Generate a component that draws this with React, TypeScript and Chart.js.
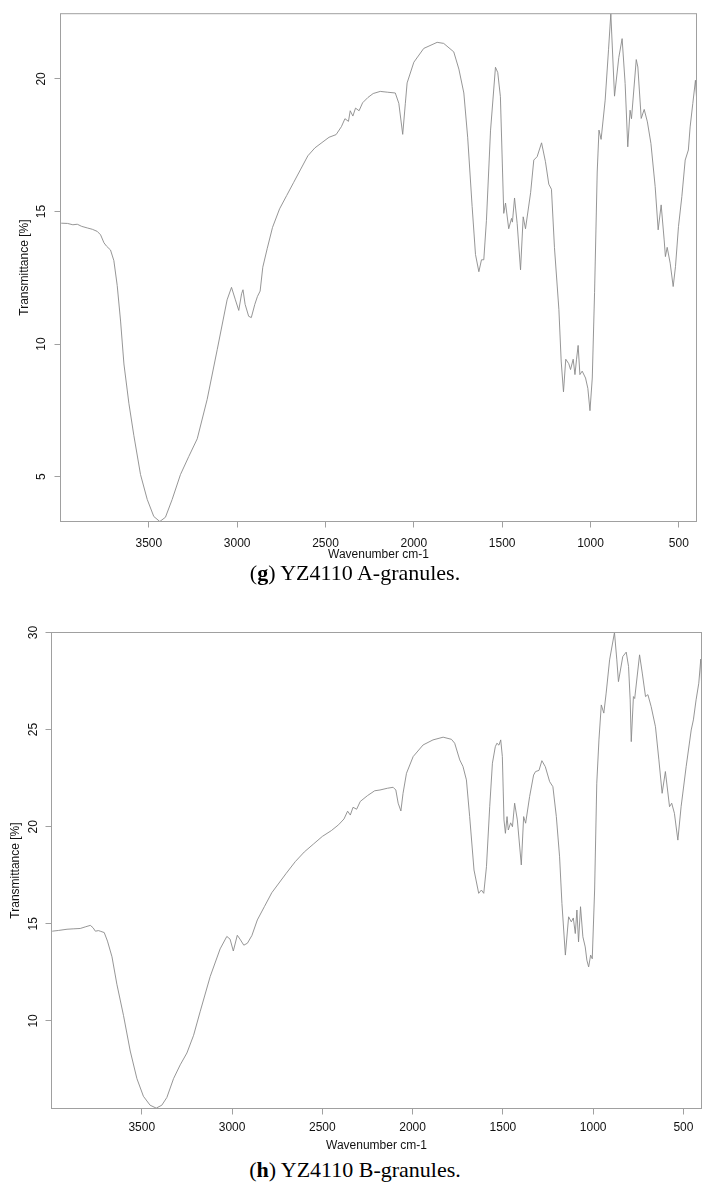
import React, { useEffect, useRef } from "react";
import { Chart, registerables } from "chart.js";

Chart.register(...registerables);

// ---------- data ----------
const X_TICKS = [3500, 3000, 2500, 2000, 1500, 1000, 500];
const X_MIN = 400;
const X_MAX = 4000;

const Y_TICKS_A = [5, 10, 15, 20];
const Y_MIN_A = 3.31;
const Y_MAX_A = 22.46;

const Y_TICKS_B = [10, 15, 20, 25, 30];
const Y_MIN_B = 5.49;
const Y_MAX_B = 30.0;

const WN_A = [
  3996, 3960, 3930, 3905, 3880, 3848, 3820, 3792, 3773, 3754, 3739, 3717, 3698, 3679, 3660, 3641,
  3613, 3585, 3547, 3509, 3472, 3438, 3406, 3368, 3321, 3274, 3226, 3170, 3113, 3057, 3032, 3010,
  2991, 2975, 2967, 2955, 2935, 2920, 2900, 2885, 2870, 2855, 2830, 2800, 2760, 2720, 2680, 2640,
  2600, 2560, 2520, 2480, 2440, 2410, 2390, 2370, 2360, 2345, 2330, 2310, 2290, 2260, 2230, 2190,
  2150, 2105, 2085, 2063, 2048, 2038, 2000, 1944, 1868, 1831, 1774, 1745, 1717, 1695, 1670, 1651,
  1632, 1617, 1604, 1589, 1566, 1538, 1525, 1510, 1491, 1481, 1463, 1447, 1442, 1430, 1415, 1396,
  1381, 1368, 1339, 1321, 1302, 1277, 1255, 1236, 1221, 1204, 1179, 1166, 1153, 1140, 1123, 1113,
  1098, 1088, 1079, 1070, 1060, 1047, 1028, 1015, 1003, 990, 977, 962, 952, 940, 917, 898,
  885, 864, 840, 821, 804, 789, 776, 768, 741, 732, 713, 696, 678, 658, 634, 617,
  600, 583, 576, 566, 549, 532, 519, 502, 483, 464, 446, 436, 421, 406, 400,
];
const T_A = [
  14.56, 14.55, 14.5, 14.52, 14.44, 14.38, 14.33, 14.25, 14.12, 13.82, 13.69, 13.55, 13.15, 12.21, 10.87, 9.25,
  7.77, 6.56, 5.08, 4.14, 3.5, 3.31, 3.47, 4.14, 5.08, 5.76, 6.43, 7.91, 9.79, 11.67, 12.14, 11.67,
  11.27, 11.9, 12.05, 11.5, 11.05, 11.0, 11.5, 11.8, 12.0, 12.9, 13.6, 14.4, 15.1, 15.6, 16.1, 16.6,
  17.1, 17.4, 17.6, 17.8, 17.9, 18.2, 18.5, 18.4, 18.8, 18.6, 18.9, 18.8, 19.1, 19.3, 19.45, 19.53,
  19.5, 19.47, 19.08, 17.91, 19.08, 19.85, 20.63, 21.15, 21.38, 21.34, 21.02, 20.37, 19.47, 17.78, 15.19, 13.38,
  12.73, 13.18, 13.18, 14.67, 18.04, 20.44, 20.24, 19.33, 14.93, 15.32, 14.35, 14.74, 14.6, 15.51, 14.54, 12.8,
  14.8, 14.35, 15.71, 16.94, 17.07, 17.59, 16.88, 16.03, 15.84, 13.64, 11.31, 9.36, 8.2, 9.43, 9.26, 9.04,
  9.43, 8.85, 9.43, 9.95, 8.85, 8.98, 8.72, 8.33, 7.49, 8.72, 11.95, 16.49, 18.07, 17.72, 19.2, 21.1,
  22.46, 19.35, 20.8, 21.52, 19.83, 17.44, 18.82, 18.5, 20.73, 20.45, 18.51, 18.85, 18.38, 17.57, 15.94, 14.31,
  15.25, 13.93, 13.3, 13.65, 13.05, 12.17, 12.92, 14.43, 15.56, 16.94, 17.32, 18.19, 19.07, 19.95, 19.32,
];

const WN_B = [
  3996, 3960, 3914, 3880, 3841, 3810, 3785, 3770, 3757, 3740, 3730, 3708, 3690, 3665, 3638, 3601,
  3564, 3527, 3491, 3454, 3420, 3389, 3361, 3324, 3287, 3250, 3213, 3177, 3121, 3066, 3029, 3011,
  2993, 2971, 2956, 2935, 2915, 2890, 2860, 2820, 2780, 2740, 2700, 2650, 2600, 2550, 2500, 2450,
  2410, 2380, 2360, 2345, 2330, 2310, 2290, 2250, 2210, 2181, 2140, 2108, 2093, 2080, 2065, 2053,
  2034, 1997, 1942, 1887, 1831, 1785, 1767, 1739, 1721, 1702, 1684, 1660, 1634, 1619, 1606, 1591,
  1573, 1558, 1542, 1533, 1522, 1512, 1503, 1494, 1486, 1477, 1470, 1457, 1447, 1435, 1420, 1398,
  1385, 1374, 1352, 1330, 1319, 1300, 1284, 1265, 1241, 1223, 1204, 1186, 1173, 1154, 1136, 1121,
  1110, 1099, 1090, 1081, 1070, 1057, 1044, 1035, 1025, 1014, 1005, 992, 980, 968, 955, 941,
  928, 909, 882, 869, 860, 836, 817, 804, 795, 789, 777, 770, 743, 728, 710, 697,
  679, 655, 636, 618, 600, 577, 565, 550, 531, 513, 485, 457, 445, 430, 415, 404, 400,
];
const T_B = [
  14.62, 14.66, 14.72, 14.74, 14.76, 14.85, 14.92, 14.8, 14.62, 14.65, 14.62, 14.55, 14.11, 13.3, 11.89, 10.27,
  8.45, 7.03, 6.12, 5.66, 5.51, 5.66, 6.06, 7.03, 7.74, 8.35, 9.26, 10.47, 12.29, 13.71, 14.35, 14.21,
  13.6, 14.41, 14.21, 13.9, 14.0, 14.4, 15.2, 15.9, 16.6, 17.1, 17.6, 18.2, 18.7, 19.1, 19.5, 19.8,
  20.1, 20.4, 20.8, 20.6, 21.0, 20.9, 21.3, 21.6, 21.85, 21.89, 21.98, 22.03, 21.89, 21.21, 20.81, 21.72,
  22.75, 23.61, 24.21, 24.47, 24.61, 24.5, 24.3, 23.44, 23.1, 22.41, 20.52, 17.77, 16.57, 16.74, 16.57, 17.94,
  21.03, 23.27, 24.12, 24.3, 24.2, 24.47, 23.61, 20.35, 19.66, 20.52, 19.83, 20.2, 20.0, 21.21, 20.35, 18.03,
  20.52, 20.18, 21.55, 22.66, 22.84, 22.9, 23.4, 23.09, 22.32, 22.06, 20.52, 18.45, 16.05, 13.39, 15.36, 15.1,
  15.3, 14.5, 15.71, 14.07, 15.88, 14.33, 13.81, 13.13, 12.78, 13.39, 13.2, 16.74, 22.24, 24.47, 26.27, 25.85,
  26.88, 28.59, 30.0, 28.59, 27.47, 28.76, 28.99, 28.25, 26.53, 24.38, 26.7, 26.6, 28.85, 27.91, 26.7, 26.8,
  26.19, 25.15, 23.44, 21.72, 22.84, 21.03, 21.21, 20.69, 19.31, 21.03, 23.09, 24.98, 25.5, 26.53, 27.39, 28.63, 27.47,
];

// ---------- styles ----------
const LINE_COLOR = "#8a8a8a";
const FRAME_COLOR = "#a0a0a0";
const TEXT_COLOR = "#111111";
const SANS = "'Liberation Sans', Arial, Helvetica, sans-serif";

const framePlugin = {
  id: "frame",
  afterDraw(chart: any) {
    const { ctx, chartArea: a } = chart;
    ctx.save();
    ctx.strokeStyle = FRAME_COLOR;
    ctx.lineWidth = 1;
    ctx.strokeRect(a.left, a.top, a.right - a.left, a.bottom - a.top);
    ctx.restore();
  },
};

type SpecProps = {
  wn: number[];
  t: number[];
  yTicks: number[];
  yMin: number;
  yMax: number;
  top: number;
  height: number;
  areaLeft: number;
  areaTop: number;
  areaRight: number;
  areaBottom: number;
  yLabelPad: number;
  yTitlePad: number;
  xLabelPad: number;
  xTitlePad: number;
};

function Spectrum(p: SpecProps) {
  const ref = useRef<HTMLCanvasElement | null>(null);
  useEffect(() => {
    if (!ref.current) return;
    const W = 716;
    const chart = new Chart(ref.current, {
      type: "line",
      data: {
        datasets: [
          {
            data: p.wn.map((x, i) => ({ x, y: p.t[i] })),
            borderColor: LINE_COLOR,
            borderWidth: 0.9,
            pointRadius: 0,
            tension: 0,
            fill: false,
          },
        ],
      },
      options: {
        animation: false,
        responsive: false,
        maintainAspectRatio: false,
        devicePixelRatio: 1,
        layout: {
          padding: { left: 0, top: p.areaTop, right: W - p.areaRight, bottom: 0 },
        },
        plugins: { legend: { display: false }, tooltip: { enabled: false } },
        scales: {
          x: {
            type: "linear",
            reverse: true,
            min: X_MIN,
            max: X_MAX,
            afterBuildTicks: (s: any) => {
              s.ticks = X_TICKS.map((v) => ({ value: v }));
            },
            afterFit: (s: any) => {
              s.height = p.height - p.areaBottom;
            },
            grid: {
              drawOnChartArea: false,
              drawTicks: true,
              tickLength: 6,
              tickColor: FRAME_COLOR,
              color: FRAME_COLOR,
            },
            border: { display: false },
            ticks: {
              autoSkip: false,
              maxRotation: 0,
              minRotation: 0,
              padding: p.xLabelPad,
              color: TEXT_COLOR,
              font: { family: SANS, size: 12 },
              callback: (v: any) => String(v),
            },
            title: {
              display: true,
              text: "Wavenumber cm-1",
              color: TEXT_COLOR,
              font: { family: SANS, size: 12 },
              padding: { top: 0, bottom: p.xTitlePad },
            },
          },
          y: {
            type: "linear",
            min: p.yMin,
            max: p.yMax,
            afterBuildTicks: (s: any) => {
              s.ticks = p.yTicks.map((v) => ({ value: v }));
            },
            afterFit: (s: any) => {
              s.width = p.areaLeft;
            },
            grid: {
              drawOnChartArea: false,
              drawTicks: true,
              tickLength: 6,
              tickColor: FRAME_COLOR,
              color: FRAME_COLOR,
            },
            border: { display: false },
            ticks: {
              autoSkip: false,
              minRotation: 90,
              maxRotation: 90,
              crossAlign: "center",
              padding: p.yLabelPad,
              color: TEXT_COLOR,
              font: { family: SANS, size: 12 },
              callback: (v: any) => String(v),
            },
            title: {
              display: true,
              text: "Transmittance [%]",
              color: TEXT_COLOR,
              font: { family: SANS, size: 12 },
              padding: { top: p.yTitlePad, bottom: 0 },
            },
          },
        },
      },
      plugins: [framePlugin],
    } as any);
    return () => chart.destroy();
  }, []);
  return (
    <div style={{ position: "absolute", left: 0, top: p.top, width: 716, height: p.height }}>
      <canvas ref={ref} width={716} height={p.height} style={{ display: "block", width: 716, height: p.height }} />
    </div>
  );
}

const captionStyle = (top: number): React.CSSProperties => ({
  position: "absolute",
  left: 0,
  top,
  width: 710,
  textAlign: "center",
  fontFamily: "'Liberation Serif', 'Times New Roman', serif",
  fontSize: 22,
  lineHeight: "24px",
  color: "#000",
  whiteSpace: "nowrap",
});

export default function App() {
  return (
    <div style={{ position: "absolute", left: 0, top: 0, width: 716, height: 1196, background: "#fff", overflow: "hidden" }}>
      <Spectrum
        wn={WN_A}
        t={T_A}
        yTicks={Y_TICKS_A}
        yMin={Y_MIN_A}
        yMax={Y_MAX_A}
        top={0}
        height={563}
        areaLeft={60.5}
        areaTop={13.5}
        areaRight={696.5}
        areaBottom={521.5}
        yLabelPad={6.5}
        yTitlePad={17.3}
        xLabelPad={8.8}
        xTitlePad={1.2}
      />
      <div style={captionStyle(561)}>
        (<b>g</b>) YZ4110 A-granules.
      </div>
      <Spectrum
        wn={WN_B}
        t={T_B}
        yTicks={Y_TICKS_B}
        yMin={Y_MIN_B}
        yMax={Y_MAX_B}
        top={600}
        height={555}
        areaLeft={51.5}
        areaTop={32.5}
        areaRight={701.5}
        areaBottom={508.5}
        yLabelPad={5.5}
        yTitlePad={8.1}
        xLabelPad={5.8}
        xTitlePad={1.8}
      />
      <div style={captionStyle(1158)}>
        (<b>h</b>) YZ4110 B-granules.
      </div>
    </div>
  );
}
